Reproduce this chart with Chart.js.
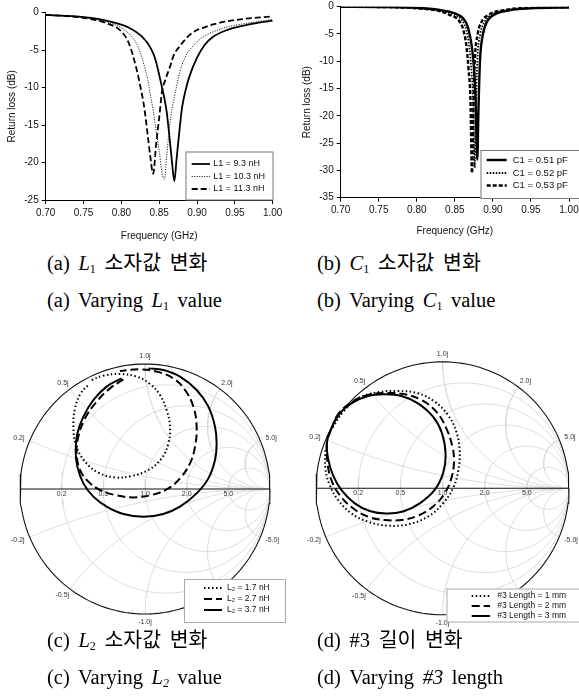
<!DOCTYPE html>
<html>
<head>
<meta charset="utf-8">
<script src="https://cdn.jsdelivr.net/npm/chart.js@4.4.1/dist/chart.umd.min.js"></script>
<style>
  body { margin: 0; background: #fff; width: 579px; height: 698px; position: relative; overflow: hidden; }
  canvas { position: absolute; }
  .cap { position: absolute; font-family: "Liberation Serif", "Noto Sans CJK KR", serif; font-size: 20.5px; line-height: 20px; color: #000; white-space: nowrap; word-spacing: 3.5px; }
  .cap sub { font-size: 12px; vertical-align: -3px; line-height: 0; }
</style>
</head>
<body>
<canvas id="chart-a" width="290" height="250" style="left:0;top:0"></canvas>
<canvas id="chart-b" width="289" height="250" style="left:290px;top:0"></canvas>
<canvas id="chart-c" width="290" height="300" style="left:0;top:330px"></canvas>
<canvas id="chart-d" width="289" height="300" style="left:290px;top:330px"></canvas>

<div class="cap" style="left:47px;top:253px">(a) <i>L</i><sub>1</sub> 소자값 변화</div>
<div class="cap" style="left:47px;top:290px">(a) Varying <i>L</i><sub>1</sub> value</div>
<div class="cap" style="left:317px;top:253px">(b) <i>C</i><sub>1</sub> 소자값 변화</div>
<div class="cap" style="left:317px;top:290px">(b) Varying <i>C</i><sub>1</sub> value</div>
<div class="cap" style="left:47px;top:630px">(c) <i>L</i><sub>2</sub> 소자값 변화</div>
<div class="cap" style="left:47px;top:667px">(c) Varying <i>L<sub>2</sub></i> value</div>
<div class="cap" style="left:317px;top:630px">(d) #3 길이 변화</div>
<div class="cap" style="left:317px;top:667px">(d) Varying <i>#3</i> length</div>

<script>
// ---- (a) return loss vs L1 ----
const freqA = [0.70, 0.72, 0.74, 0.76, 0.78, 0.80, 0.81, 0.82, 0.825, 0.83, 0.835, 0.838, 0.842, 0.846, 0.85,
  0.854, 0.857, 0.86, 0.864, 0.867, 0.87, 0.873, 0.877, 0.88, 0.885, 0.89, 0.90, 0.91, 0.92, 0.94, 0.96, 0.98, 1.00];
const rlL1_93 = [-0.3, -0.4, -0.5, -0.7, -1.05, -1.6, -2.0, -2.6, -3.0, -3.5, -4.1, -4.6, -5.4, -6.6, -8.3,
  -10.1, -11.5, -13.3, -17, -20, -22.5, -19.5, -15.5, -12.8, -10.3, -8.5, -6.0, -4.3, -3.3, -2.3, -1.75, -1.35, -1.05];
const rlL1_103 = [-0.3, -0.4, -0.55, -0.8, -1.25, -2.0, -2.8, -4.1, -5.3, -7.0, -9.0, -10.8, -13, -15.8, -18.5,
  -21.5, -22.2, -19, -15, -12.8, -11.3, -9.8, -8.0, -7.0, -5.8, -5.0, -3.9, -3.1, -2.6, -1.9, -1.5, -1.2, -0.9];
const rlL1_113 = [-0.3, -0.4, -0.55, -0.85, -1.4, -2.5, -4.1, -7.5, -9.8, -12.5, -16.5, -19, -21.5, -17.5, -14.0,
  -10.3, -9.3, -8.4, -7.3, -6.3, -5.5, -5.0, -4.5, -4.1, -3.5, -3.0, -2.3, -1.95, -1.6, -1.15, -0.85, -0.65, -0.5];

// ---- (b) return loss vs C1 ----
const freqC1_051 = [0.70, 0.75, 0.80, 0.83, 0.85, 0.86, 0.865, 0.868, 0.872, 0.875, 0.877, 0.8795, 0.881, 0.883, 0.887, 0.892, 0.90, 0.92, 0.95, 1.00];
const rlC1_051 = [0, -0.05, -0.2, -0.6, -1.2, -2.0, -3.0, -4.2, -7, -11, -16, -28, -19, -10, -5, -2.8, -1.6, -0.7, -0.3, -0.1];
const freqC1_052 = [0.70, 0.75, 0.80, 0.83, 0.85, 0.857, 0.862, 0.865, 0.869, 0.872, 0.874, 0.876, 0.8775, 0.8795, 0.8835, 0.889, 0.897, 0.92, 0.95, 1.00];
const rlC1_052 = [0, -0.05, -0.25, -0.7, -1.5, -2.1, -3.1, -4.2, -7.5, -12, -17, -29.5, -20, -10, -5, -2.8, -1.6, -0.6, -0.25, -0.1];
const freqC1_053 = [0.70, 0.75, 0.80, 0.83, 0.845, 0.853, 0.858, 0.861, 0.865, 0.868, 0.8705, 0.8725, 0.874, 0.876, 0.880, 0.885, 0.893, 0.92, 0.95, 1.00];
const rlC1_053 = [0, -0.05, -0.3, -0.8, -1.6, -2.2, -3.1, -4.2, -7, -11.5, -17, -30.5, -21, -10.5, -5, -2.8, -1.6, -0.5, -0.2, -0.1];

// ---- (c) Smith chart, reflection coefficient [re, im] vs L2 ----
const gammaL2_17 = [[-0.427, 0.872], [-0.333, 0.907], [-0.200, 0.920], [-0.067, 0.899], [0.040, 0.840], [0.120, 0.752],
  [0.173, 0.632], [0.200, 0.499], [0.187, 0.365], [0.133, 0.245], [0.027, 0.152], [-0.107, 0.104], [-0.240, 0.093],
  [-0.373, 0.131], [-0.480, 0.219], [-0.552, 0.352], [-0.573, 0.499], [-0.560, 0.645], [-0.515, 0.765], [-0.453, 0.832]];
const gammaL2_27 = [[-0.173, 0.877], [-0.280, 0.805], [-0.387, 0.699], [-0.480, 0.565], [-0.533, 0.419], [-0.547, 0.285],
  [-0.520, 0.152], [-0.453, 0.059], [-0.360, -0.008], [-0.240, -0.048], [-0.093, -0.067], [0.053, -0.048], [0.187, 0.005],
  [0.280, 0.085], [0.360, 0.205], [0.400, 0.339], [0.413, 0.499], [0.387, 0.659], [0.320, 0.792], [0.227, 0.885],
  [0.093, 0.939], [-0.040, 0.957], [-0.200, 0.944]];
const gammaL2_37 = [[-0.187, 0.885], [-0.307, 0.819], [-0.413, 0.712], [-0.493, 0.579], [-0.541, 0.445], [-0.555, 0.312],
  [-0.541, 0.179], [-0.493, 0.045], [-0.413, -0.061], [-0.307, -0.141], [-0.173, -0.200], [-0.013, -0.221], [0.147, -0.200],
  [0.280, -0.141], [0.413, -0.035], [0.507, 0.085], [0.560, 0.232], [0.573, 0.365], [0.560, 0.499], [0.507, 0.659],
  [0.413, 0.792], [0.280, 0.899], [0.147, 0.952], [0.027, 0.965]];

// ---- (d) Smith chart vs #3 length ----
const gammaLen1 = [[-0.87, 0.48], [-0.78, 0.61], [-0.668, 0.711], [-0.510, 0.759], [-0.352, 0.769], [-0.194, 0.751],
  [-0.062, 0.685], [0.043, 0.579], [0.109, 0.448], [0.136, 0.290], [0.123, 0.131], [0.083, 0.0], [0.004, -0.119],
  [-0.115, -0.224], [-0.273, -0.285], [-0.431, -0.295], [-0.589, -0.264], [-0.721, -0.198], [-0.826, -0.092],
  [-0.892, 0.026], [-0.926, 0.158], [-0.926, 0.316]];
const gammaLen2 = [[-0.88, 0.47], [-0.826, 0.585], [-0.721, 0.680], [-0.589, 0.738], [-0.457, 0.754], [-0.299, 0.743],
  [-0.167, 0.698], [-0.049, 0.606], [0.030, 0.474], [0.078, 0.329], [0.091, 0.211], [0.070, 0.079], [0.017, -0.040],
  [-0.075, -0.145], [-0.194, -0.216], [-0.325, -0.251], [-0.457, -0.251], [-0.589, -0.224], [-0.708, -0.158],
  [-0.813, -0.053], [-0.879, 0.066], [-0.910, 0.211], [-0.913, 0.369], [-0.88, 0.47]];
const gammaLen3 = [[-0.88, 0.47], [-0.826, 0.579], [-0.721, 0.672], [-0.589, 0.730], [-0.457, 0.743], [-0.325, 0.730],
  [-0.194, 0.672], [-0.075, 0.566], [-0.004, 0.435], [0.025, 0.263], [0.004, 0.118], [-0.062, -0.013], [-0.180, -0.119],
  [-0.312, -0.184], [-0.444, -0.200], [-0.576, -0.179], [-0.694, -0.119], [-0.800, -0.013], [-0.866, 0.105],
  [-0.905, 0.237], [-0.913, 0.369], [-0.88, 0.47]];

// Smith chart grid ticks
const resistanceTicks = [0.2, 0.5, 1.0, 2.0, 5.0];
const reactanceTicks = [0.2, 0.5, 1.0, 2.0, 5.0];

const SANS = '"Liberation Sans", Arial, sans-serif';
const BLACK = '#000';

// legend drawn inside the plot, box + line samples
const boxLegend = {
  id: 'boxLegend',
  afterDraw(chart, args, opts) {
    if (!opts || !opts.box) return;
    const ctx = chart.ctx;
    const b = opts.box;
    ctx.save();
    ctx.fillStyle = '#fff';
    ctx.fillRect(b[0], b[1], b[2], b[3]);
    ctx.strokeStyle = opts.border;
    ctx.lineWidth = 1;
    ctx.strokeRect(b[0] + 0.5, b[1] + 0.5, b[2], b[3]);
    ctx.font = opts.font;
    ctx.textBaseline = 'middle';
    chart.data.datasets.filter(d => d.inLegend).forEach((d, i) => {
      const y = opts.rows[i];
      ctx.strokeStyle = d.borderColor;
      ctx.lineWidth = d.borderWidth;
      ctx.setLineDash(d.borderDash || []);
      ctx.beginPath();
      ctx.moveTo(opts.sample[0], y);
      ctx.lineTo(opts.sample[1], y);
      ctx.stroke();
      ctx.setLineDash([]);
      ctx.fillStyle = '#111';
      ctx.fillText(d.label, opts.textX, y);
    });
    ctx.restore();
  }
};

function lineSet(label, xs, ys, width, dash) {
  return {
    label: label,
    data: xs.map((f, i) => ({ x: f, y: ys[i] })),
    borderColor: BLACK,
    borderWidth: width,
    borderDash: dash,
    pointRadius: 0,
    fill: false,
    cubicInterpolationMode: 'monotone',
    inLegend: true
  };
}

function makeRlChart(id, datasets, yMin, dims, legend) {
  const font = { family: SANS, size: 10 };
  return new Chart(document.getElementById(id), {
    type: 'line',
    data: { datasets: datasets },
    plugins: [boxLegend],
    options: {
      responsive: false,
      animation: false,
      devicePixelRatio: 1,
      events: [],
      layout: { padding: { top: dims.top, right: dims.right, left: 0, bottom: 0 } },
      plugins: { legend: { display: false }, tooltip: { enabled: false }, boxLegend: legend },
      scales: {
        x: {
          type: 'linear', min: 0.7, max: 1.0,
          ticks: { stepSize: 0.05, callback: v => v.toFixed(2), font: font, color: '#111', padding: 3, maxRotation: 0, autoSkip: false },
          grid: { display: true, drawOnChartArea: false, tickLength: 4, color: BLACK },
          border: { color: BLACK, width: 1 },
          title: { display: true, text: 'Frequency (GHz)', font: font, color: '#111', padding: { top: 0, bottom: dims.xTitlePad } },
          afterFit: s => { s.height = dims.xH; s.paddingLeft = 0; s.paddingRight = 0; }
        },
        y: {
          min: yMin, max: 0,
          ticks: { stepSize: 5, font: font, color: '#111', padding: 3 },
          grid: { display: true, drawOnChartArea: false, tickLength: 4, color: BLACK },
          border: { color: BLACK, width: 1 },
          title: { display: true, text: 'Return loss (dB)', font: font, color: '#111', padding: { top: dims.yTitlePad, bottom: 0 } },
          afterFit: s => { s.width = dims.yW; s.paddingTop = 0; s.paddingBottom = 0; }
        }
      }
    }
  });
}

makeRlChart('chart-a', [
  lineSet('L1 = 9.3 nH', freqA, rlL1_93, 1.8, []),
  lineSet('L1 = 10.3 nH', freqA, rlL1_103, 1, [1, 1.5]),
  lineSet('L1 = 11.3 nH', freqA, rlL1_113, 1.8, [6, 3])
], -25, { top: 12.7, right: 17.3, yW: 45.7, xH: 50, xTitlePad: 8, yTitlePad: 6.5 }, {
  box: [185.5, 151.5, 87, 48], border: '#777', font: '9px ' + SANS,
  rows: [164, 176.5, 189], sample: [191.7, 210], textX: 213.3
});

makeRlChart('chart-b', [
  lineSet('C1 = 0.51 pF', freqC1_051, rlC1_051, 2.4, []),
  lineSet('C1 = 0.52 pF', freqC1_052, rlC1_052, 1.8, [1.5, 1.5]),
  lineSet('C1 = 0.53 pF', freqC1_053, rlC1_053, 2.4, [4, 2])
], -35, { top: 6.7, right: 10, yW: 50.7, xH: 52.3, xTitlePad: 12.3, yTitlePad: 11.3 }, {
  box: [190.5, 150, 110, 48], border: '#777', font: '9.5px ' + SANS,
  rows: [160, 173, 185.5], sample: [196.7, 216.7], textX: 222.7
});

// ---- Smith charts ----
function toGamma(r, x) {
  const d = (r + 1) * (r + 1) + x * x;
  return { x: (r * r - 1 + x * x) / d, y: (2 * x) / d };
}

function smithGridSets() {
  const gray = { showLine: true, pointRadius: 0, borderColor: '#d4d4d4', borderWidth: 0.8, tension: 0, fill: false };
  const sets = [];
  resistanceTicks.forEach(r => {
    const c = r / (1 + r), rad = 1 / (1 + r), pts = [];
    for (let i = 0; i <= 120; i++) {
      const a = 2 * Math.PI * i / 120;
      pts.push({ x: c + rad * Math.cos(a), y: rad * Math.sin(a) });
    }
    sets.push(Object.assign({ data: pts }, gray));
  });
  reactanceTicks.forEach(v => [v, -v].forEach(xv => {
    const pts = [];
    for (let i = 0; i < 90; i++) pts.push(toGamma(Math.tan(Math.PI / 2 * i / 90), xv));
    pts.push({ x: 1, y: 0 });
    sets.push(Object.assign({ data: pts }, gray));
  }));
  const outer = [];
  for (let i = 0; i <= 160; i++) {
    const a = 2 * Math.PI * i / 160;
    outer.push({ x: Math.cos(a), y: Math.sin(a) });
  }
  const edge = { showLine: true, pointRadius: 0, borderColor: '#111', borderWidth: 1.1, tension: 0, fill: false };
  return [Object.assign({ data: outer }, edge), Object.assign({ data: [{ x: -1, y: 0 }, { x: 1, y: 0 }] }, edge)].concat(sets);
}

const smithLabels = {
  id: 'smithLabels',
  afterDatasetsDraw(chart) {
    const { ctx, scales: { x, y } } = chart;
    ctx.save();
    ctx.font = '7px ' + SANS;
    ctx.fillStyle = '#333';
    ctx.textAlign = 'center';
    ctx.textBaseline = 'middle';
    resistanceTicks.forEach(r => {
      const g = toGamma(r, 0);
      ctx.fillText(r.toFixed(1), x.getPixelForValue(g.x), y.getPixelForValue(0) + 5);
    });
    reactanceTicks.forEach(v => [v, -v].forEach(xv => {
      const g = toGamma(0, xv);
      const txt = xv.toFixed(1) + 'j';
      const w = ctx.measureText(txt).width;
      ctx.fillText(txt, x.getPixelForValue(g.x) + g.x * (6 + w / 2), y.getPixelForValue(g.y) - g.y * 8);
    }));
    ctx.restore();
  }
};

function smithSet(label, pts, width, dash) {
  return {
    label: label,
    data: pts.map(p => ({ x: p[0], y: p[1] })),
    showLine: true,
    borderColor: BLACK,
    borderWidth: width,
    borderDash: dash,
    pointRadius: 0,
    tension: 0.4,
    fill: false,
    inLegend: true
  };
}

function makeSmith(id, curves, pad, legend) {
  const range = { min: -1.05, max: 1.05, display: false };
  return new Chart(document.getElementById(id), {
    type: 'scatter',
    data: { datasets: curves.concat(smithGridSets()) },
    plugins: [smithLabels, boxLegend],
    options: {
      responsive: false,
      animation: false,
      devicePixelRatio: 1,
      events: [],
      layout: { padding: pad },
      plugins: { legend: { display: false }, tooltip: { enabled: false }, boxLegend: legend },
      scales: { x: Object.assign({ type: 'linear' }, range), y: Object.assign({ type: 'linear' }, range) }
    }
  });
}

makeSmith('chart-c', [
  smithSet('L\u2082 = 1.7 nH', gammaL2_17, 2, [1.5, 2.5]),
  smithSet('L\u2082 = 2.7 nH', gammaL2_27, 2, [8, 4]),
  smithSet('L\u2082 = 3.7 nH', gammaL2_37, 2, [])
], { left: 13.75, right: 13.75, top: 27.75, bottom: 9.75 }, {
  box: [184, 249, 101, 43], border: '#aaa', font: '8.5px ' + SANS,
  rows: [258, 269, 280], sample: [204, 222], textX: 227
});

makeSmith('chart-d', [
  smithSet('#3 Length = 1 mm', gammaLen1, 2, [1.5, 2.5]),
  smithSet('#3 Length = 2 mm', gammaLen2, 2, [8, 4]),
  smithSet('#3 Length = 3 mm', gammaLen3, 2, [])
], { left: 19.7, right: 3.7, top: 25.5, bottom: 8.9 }, {
  box: [156.5, 258.5, 140, 33], border: '#aaa', font: '8.5px ' + SANS,
  rows: [266, 276, 286], sample: [181.7, 200], textX: 207.3
});
</script>
</body>
</html>
